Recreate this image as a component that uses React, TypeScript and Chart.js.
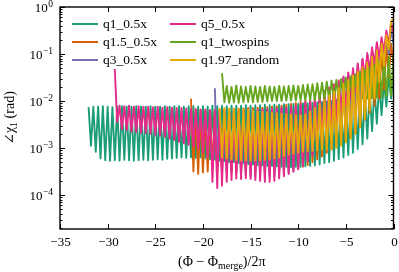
import React, { useEffect, useRef } from "react";
import { Chart, registerables } from "chart.js";
Chart.register(...registerables);

// phase grid step (orbital phase / 2pi) between successive read-off extrema
const STEP = 0.25;

const seriesNames = ["q1_0.5x", "q1.5_0.5x", "q3_0.5x", "q5_0.5x", "q1_twospins", "q1.97_random"];
const seriesColors = ["#1b9e77", "#d95f02", "#7570b3", "#e7298a", "#66a61e", "#e6ab02"];
const seriesStarts = [-32, -21.25, -18.75, -29.25, -18, -18.25];

// log10 of angle (rad), alternating maxima / minima
const q1Log = [
  -2.13,-2.95,-2.12,-3.08,-2.12,-3.22,-2.11,-3.26,-2.12,-3.27,-2.13,-3.26,-2.12,-3.27,-2.11,-3.25,
  -2.12,-3.26,-2.12,-3.27,-2.11,-3.26,-2.12,-3.25,-2.12,-3.26,-2.11,-3.25,-2.12,-3.24,-2.12,-3.25,
  -2.11,-3.23,-2.12,-3.22,-2.11,-3.21,-2.11,-3.2,-2.12,-3.21,-2.11,-3.2,-2.11,-3.21,-2.12,-3.2,
  -2.11,-3.22,-2.12,-3.24,-2.1,-3.25,-2.11,-3.27,-2.1,-3.28,-2.11,-3.3,-2.1,-3.3,-2.1,-3.32,
  -2.1,-3.33,-2.09,-3.34,-2.1,-3.35,-2.09,-3.36,-2.09,-3.37,-2.08,-3.38,-2.09,-3.38,-2.08,-3.39,
  -2.08,-3.4,-2.07,-3.4,-2.07,-3.41,-2.06,-3.4,-2.06,-3.4,-2.05,-3.39,-2.05,-3.38,-2.04,-3.37,
  -2.03,-3.35,-2.02,-3.32,-2.01,-3.3,-2.0,-3.27,-1.98,-3.24,-1.96,-3.2,-1.94,-3.15,-1.92,-3.1,
  -1.89,-3.02,-1.86,-2.92,-1.82,-2.8,-1.78,-2.64,-1.72,-2.48,-1.66,-2.3,-1.58,-2.12,-1.48,-1.95,
  -1.4,
];
const q15Log = [
  -1.95,-3.5,-2.2,-3.55,-2.19,-3.52,-2.2,-3.5,-2.2,-3.48,-2.19,-3.5,-2.18,-3.52,-2.18,-3.5,
  -2.17,-3.5,-2.17,-3.52,-2.16,-3.5,-2.16,-3.5,-2.15,-3.52,-2.15,-3.5,-2.14,-3.5,-2.14,-3.48,
  -2.13,-3.48,-2.12,-3.47,-2.11,-3.47,-2.1,-3.46,-2.08,-3.46,-2.06,-3.45,-2.04,-3.43,-2.01,-3.4,
  -1.98,-3.36,-1.94,-3.3,-1.9,-3.24,-1.85,-3.18,-1.8,-3.1,-1.74,-3.03,-1.68,-2.96,-1.62,-2.9,
  -1.55,-2.85,-1.48,-2.78,-1.4,-2.68,-1.32,-2.55,-1.25,-2.4,-1.17,-2.25,-1.08,-2.1,-1.0,-1.95,
  -0.92,-1.75,-0.82,-1.5,-0.78,-1.2,
];
const q3Log = [
  -1.73,-3.4,-2.22,-3.45,-2.22,-3.5,-2.21,-3.52,-2.21,-3.55,-2.2,-3.56,-2.2,-3.58,-2.2,-3.6,
  -2.19,-3.6,-2.19,-3.6,-2.18,-3.61,-2.18,-3.6,-2.17,-3.6,-2.16,-3.58,-2.15,-3.56,-2.14,-3.54,
  -2.12,-3.5,-2.1,-3.44,-2.07,-3.36,-2.03,-3.26,-1.99,-3.15,-1.94,-3.04,-1.88,-2.93,-1.82,-2.84,
  -1.75,-2.75,-1.67,-2.65,-1.59,-2.55,-1.5,-2.44,-1.41,-2.32,-1.32,-2.2,-1.22,-2.06,-1.12,-1.9,
  -1.02,-1.74,-0.92,-1.56,-0.82,-1.38,-0.72,-1.2,-0.6,-1.0,-0.45,-0.8,
];
const q5Log = [
  -1.32,-2.45,-2.1,-2.6,-2.11,-2.62,-2.1,-2.65,-2.12,-2.66,-2.11,-2.68,-2.12,-2.68,-2.12,-2.7,
  -2.13,-2.72,-2.12,-2.74,-2.14,-2.76,-2.13,-2.8,-2.14,-2.83,-2.15,-2.87,-2.15,-2.9,-2.16,-2.93,
  -2.17,-2.97,-2.17,-3.02,-2.18,-3.1,-2.18,-3.2,-2.19,-3.72,-2.2,-3.85,-2.2,-3.8,-2.21,-3.72,
  -2.21,-3.68,-2.2,-3.65,-2.21,-3.66,-2.2,-3.64,-2.2,-3.66,-2.19,-3.68,-2.19,-3.7,-2.18,-3.72,
  -2.18,-3.72,-2.17,-3.7,-2.16,-3.65,-2.15,-3.6,-2.14,-3.55,-2.12,-3.5,-2.1,-3.45,-2.07,-3.38,
  -2.02,-3.28,-1.97,-3.15,-1.91,-3.0,-1.85,-2.85,-1.78,-2.7,-1.71,-2.55,-1.64,-2.4,-1.56,-2.25,
  -1.48,-2.1,-1.39,-1.95,-1.3,-1.8,-1.2,-1.64,-1.1,-1.5,-0.98,-1.36,-0.86,-1.22,-0.75,-1.08,
  -0.64,-0.95,-0.5,-0.8,-0.32,-0.55,
];
const twoSpinsLog = [
  -1.41,-2.03,-1.68,-2.04,-1.7,-2.03,-1.67,-2.04,-1.69,-2.03,-1.7,-2.02,-1.68,-2.03,-1.69,-2.02,
  -1.7,-2.02,-1.68,-2.01,-1.69,-2.0,-1.7,-2.0,-1.68,-2.0,-1.69,-1.99,-1.68,-1.99,-1.67,-1.99,
  -1.68,-1.98,-1.66,-1.98,-1.65,-1.98,-1.64,-1.98,-1.62,-1.97,-1.61,-1.97,-1.59,-1.97,-1.57,-1.97,
  -1.55,-1.97,-1.53,-1.96,-1.5,-1.96,-1.47,-1.96,-1.43,-1.95,-1.38,-1.95,-1.33,-1.95,-1.28,-1.94,
  -1.22,-1.93,-1.16,-1.92,-1.1,-1.9,-1.05,-1.88,
  -1.02,
];
const randomLog = [
  -2.15,-3.2,-2.15,-3.22,-2.16,-3.24,-2.16,-3.25,-2.17,-3.26,-2.18,-3.26,-2.19,-3.27,-2.2,-3.26,
  -2.22,-3.26,-2.23,-3.25,-2.24,-3.24,-2.25,-3.22,-2.26,-3.2,-2.27,-3.17,-2.28,-3.14,-2.29,-3.12,
  -2.3,-3.1,-2.3,-3.08,-2.28,-3.07,-2.22,-3.06,-2.15,-3.05,-2.06,-3.04,-1.97,-3.03,-1.88,-3.02,
  -1.8,-3.0,-1.72,-2.95,-1.63,-2.88,-1.55,-2.8,-1.46,-2.7,-1.37,-2.55,-1.28,-2.38,-1.18,-2.2,
  -1.05,-1.95,-0.92,-1.6,-0.78,-1.25,-0.6,-0.9,-0.3,-0.25,
];
const seriesLogs = [q1Log, q15Log, q3Log, q5Log, twoSpinsLog, randomLog];

const xTicks = [-35, -30, -25, -20, -15, -10, -5, 0];
const yDecades = [-4, -3, -2, -1, 0];
const X_MIN = -35;
const X_MAX = 0;
const Y_MIN_EXP = -4.723;
const Y_MAX_EXP = 0;

const FONT = '"Liberation Serif", "DejaVu Serif", serif';

const decorPlugin = {
  id: "decor",
  afterDraw(chart: any) {
    const { ctx, chartArea: a, scales } = chart;
    const xs = scales.x;
    const ys = scales.y;
    ctx.save();
    ctx.strokeStyle = "#000";
    ctx.fillStyle = "#000";
    ctx.lineWidth = 1.4;
    ctx.strokeRect(a.left, a.top, a.right - a.left, a.bottom - a.top);

    // x ticks (inward, bottom & top)
    ctx.lineWidth = 1;
    ctx.font = `13px ${FONT}`;
    ctx.textAlign = "center";
    ctx.textBaseline = "alphabetic";
    for (const v of xTicks) {
      const px = Math.round(xs.getPixelForValue(v)) + 0.5;
      ctx.beginPath();
      ctx.moveTo(px, a.bottom);
      ctx.lineTo(px, a.bottom - 5);
      ctx.moveTo(px, a.top);
      ctx.lineTo(px, a.top + 5);
      ctx.stroke();
      const lbl = v < 0 ? "\u2212" + Math.abs(v) : String(v);
      ctx.fillText(lbl, px, a.bottom + 16.5);
    }

    // y ticks, major + minor, inward both sides
    for (let d = -5; d <= 0; d++) {
      for (let m = 1; m <= 9; m++) {
        const val = m * Math.pow(10, d);
        const e = Math.log10(val);
        if (e < Y_MIN_EXP - 1e-9 || e > Y_MAX_EXP + 1e-9) continue;
        const py = Math.round(ys.getPixelForValue(val)) + 0.5;
        const len = m === 1 ? 5 : 2.5;
        ctx.beginPath();
        ctx.moveTo(a.left, py);
        ctx.lineTo(a.left + len, py);
        ctx.moveTo(a.right, py);
        ctx.lineTo(a.right - len, py);
        ctx.stroke();
      }
    }
    ctx.textAlign = "left";
    for (const d of yDecades) {
      const py = ys.getPixelForValue(Math.pow(10, d));
      const base = "10";
      const sup = d === 0 ? "0" : "\u2212" + Math.abs(d);
      ctx.font = `13px ${FONT}`;
      const wb = ctx.measureText(base).width;
      ctx.font = `9.5px ${FONT}`;
      const ws = ctx.measureText(sup).width;
      const xr = a.left - 7;
      const x0 = xr - wb - ws - 0.5;
      const bl = py + 5;
      ctx.font = `13px ${FONT}`;
      ctx.fillText(base, x0, bl);
      ctx.font = `9.5px ${FONT}`;
      ctx.fillText(sup, x0 + wb + 0.5, bl - 5.5);
    }

    // x title: (Φ − Φ_merge)/2π
    {
      const p1 = "(\u03a6 \u2212 \u03a6";
      const sub = "merge";
      const p2 = ")/2\u03c0";
      ctx.font = `14px ${FONT}`;
      const w1 = ctx.measureText(p1).width;
      const w3 = ctx.measureText(p2).width;
      ctx.font = `10px ${FONT}`;
      const w2 = ctx.measureText(sub).width;
      const total = w1 + w2 + w3;
      const cx = (a.left + a.right) / 2 - 5;
      let x = cx - total / 2;
      const bl = 266;
      ctx.font = `14px ${FONT}`;
      ctx.fillText(p1, x, bl);
      x += w1;
      ctx.font = `10px ${FONT}`;
      ctx.fillText(sub, x, bl + 2.5);
      x += w2;
      ctx.font = `14px ${FONT}`;
      ctx.fillText(p2, x, bl);
    }

    // y title: ∠χ_1 (rad)
    {
      ctx.save();
      ctx.translate(14, (a.top + a.bottom) / 2);
      ctx.rotate(-Math.PI / 2);
      const p1 = "\u2220\u03c7";
      const sub = "1";
      const p2 = " (rad)";
      ctx.font = `14px ${FONT}`;
      const w1 = ctx.measureText(p1).width;
      const w3 = ctx.measureText(p2).width;
      ctx.font = `10px ${FONT}`;
      const w2 = ctx.measureText(sub).width;
      const total = w1 + w2 + w3;
      let x = -total / 2;
      ctx.font = `14px ${FONT}`;
      ctx.fillText(p1, x, 0);
      x += w1;
      ctx.font = `10px ${FONT}`;
      ctx.fillText(sub, x, 2.5);
      x += w2;
      ctx.font = `14px ${FONT}`;
      ctx.fillText(p2, x, 0);
      ctx.restore();
    }

    // legend: 2 columns, 3 rows (column-major)
    const rowY = [24, 42, 60];
    const colLine = [72, 170];
    const colText = [103, 201];
    ctx.font = `13.5px ${FONT}`;
    ctx.textBaseline = "middle";
    ctx.lineWidth = 2;
    seriesNames.forEach((name, i) => {
      const col = Math.floor(i / 3);
      const row = i % 3;
      const y = rowY[row];
      ctx.strokeStyle = seriesColors[i];
      ctx.beginPath();
      ctx.moveTo(colLine[col], y);
      ctx.lineTo(colLine[col] + 26, y);
      ctx.stroke();
      ctx.fillStyle = "#000";
      ctx.fillText(name, colText[col], y + 0.5);
    });
    ctx.restore();
  },
};

export default function App() {
  const ref = useRef<HTMLCanvasElement | null>(null);
  useEffect(() => {
    if (!ref.current) return;
    const datasets = seriesLogs.map((logs, k) => ({
      label: seriesNames[k],
      data: logs.map((v, i) => ({ x: seriesStarts[k] + i * STEP, y: Math.pow(10, v) })),
      borderColor: seriesColors[k],
      backgroundColor: seriesColors[k],
      borderWidth: 1.9,
      pointRadius: 0,
      tension: 0,
      fill: false,
      borderJoinStyle: "round" as const,
      order: seriesNames.length - k,
    }));
    const chart = new Chart(ref.current, {
      type: "line",
      data: { datasets },
      options: {
        animation: false,
        responsive: true,
        maintainAspectRatio: false,
        layout: { padding: { left: 60, right: 5.5, top: 7, bottom: 43 } },
        plugins: { legend: { display: false }, tooltip: { enabled: false } },
        scales: {
          x: { type: "linear", min: X_MIN, max: X_MAX, display: false },
          y: {
            type: "logarithmic",
            min: Math.pow(10, Y_MIN_EXP),
            max: Math.pow(10, Y_MAX_EXP),
            display: false,
          },
        },
      },
      plugins: [decorPlugin],
    });
    return () => chart.destroy();
  }, []);
  return (
    <div style={{ position: "fixed", left: 0, top: 0, width: 399, height: 272, background: "#fff" }}>
      <canvas ref={ref} />
    </div>
  );
}
